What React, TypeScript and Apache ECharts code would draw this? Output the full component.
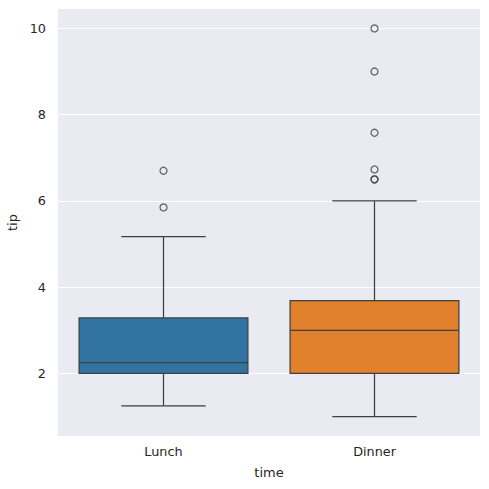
import { useEffect, useRef } from "react";
import * as echarts from "echarts";

const TIMES = ["Lunch", "Dinner"];
// [low whisker, q1, median, q3, high whisker]
const LUNCH_BOX = [1.25, 2.0, 2.25, 3.2875, 5.17];
const DINNER_BOX = [1.0, 2.0, 3.0, 3.6875, 6.0];
const LUNCH_FLIERS = [6.7, 5.85];
const DINNER_FLIERS = [10.0, 9.0, 7.58, 6.73, 6.5, 6.5];
const Y_TICKS = [2, 4, 6, 8, 10];
const BOX_COLORS = ["#3274a1", "#e1812c"];

const LINE = "#3f3f3f";
const TEXT = "#262626";
const FONT = "DejaVu Sans";

export default function App() {
  const ref = useRef<HTMLDivElement>(null);

  useEffect(() => {
    document.body.style.margin = "0";
    if (!ref.current) return;
    const chart = echarts.init(ref.current, null, { renderer: "svg" });

    const boxes = [LUNCH_BOX, DINNER_BOX].map((b, i) => [i, ...b]);
    const fliers = [
      ...LUNCH_FLIERS.map((v) => [0, v]),
      ...DINNER_FLIERS.map((v) => [1, v]),
    ];

    chart.setOption({
      animation: false,
      backgroundColor: "#ffffff",
      textStyle: { fontFamily: FONT },
      grid: {
        left: 58,
        right: 9,
        top: 9,
        bottom: 53,
        show: true,
        backgroundColor: "#eaeaf2",
        borderWidth: 0,
        outerBoundsMode: "none",
      },
      xAxis: {
        type: "category",
        data: TIMES,
        name: "time",
        nameLocation: "middle",
        nameGap: 30,
        nameTextStyle: { color: TEXT, fontSize: 13, fontFamily: FONT },
        axisLine: { show: false },
        axisTick: { show: false },
        splitLine: { show: false },
        axisLabel: { color: TEXT, fontSize: 12.8, margin: 9, fontFamily: FONT },
      },
      yAxis: {
        type: "value",
        min: 0.55,
        max: 10.45,
        name: "tip",
        nameLocation: "middle",
        nameGap: 33,
        nameTextStyle: { color: TEXT, fontSize: 13, fontFamily: FONT },
        axisLine: { show: false },
        axisTick: { show: false, customValues: Y_TICKS },
        axisLabel: {
          color: TEXT,
          fontSize: 12.8,
          margin: 12,
          fontFamily: FONT,
          customValues: Y_TICKS,
        },
        splitLine: { show: true, lineStyle: { color: "#ffffff", width: 1 } },
      },
      series: [
        {
          type: "custom",
          data: boxes,
          encode: { x: 0, y: [1, 2, 3, 4, 5] },
          renderItem: (params: any, api: any) => {
            const x = api.value(0);
            const lo = api.coord([x, api.value(1)]);
            const q1 = api.coord([x, api.value(2)]);
            const med = api.coord([x, api.value(3)]);
            const q3 = api.coord([x, api.value(4)]);
            const hi = api.coord([x, api.value(5)]);
            const band = api.size([1, 0])[0];
            const hw = (band * 0.8) / 2;
            const cw = hw / 2;
            const cx = lo[0];
            const ls = { stroke: LINE, lineWidth: 1.25 };
            return {
              type: "group",
              children: [
                { type: "line", shape: { x1: cx, y1: q1[1], x2: cx, y2: lo[1] }, style: ls },
                { type: "line", shape: { x1: cx, y1: q3[1], x2: cx, y2: hi[1] }, style: ls },
                { type: "line", shape: { x1: cx - cw, y1: lo[1], x2: cx + cw, y2: lo[1] }, style: ls },
                { type: "line", shape: { x1: cx - cw, y1: hi[1], x2: cx + cw, y2: hi[1] }, style: ls },
                {
                  type: "rect",
                  shape: { x: cx - hw, y: q3[1], width: hw * 2, height: q1[1] - q3[1] },
                  style: { fill: BOX_COLORS[params.dataIndex], stroke: LINE, lineWidth: 1.25 },
                },
                { type: "line", shape: { x1: cx - hw, y1: med[1], x2: cx + hw, y2: med[1] }, style: ls },
              ],
            };
          },
        },
        {
          type: "scatter",
          data: fliers,
          symbol: "circle",
          symbolSize: 7,
          itemStyle: { color: "transparent", borderColor: LINE, borderWidth: 1.25 },
        },
      ],
    });

    return () => chart.dispose();
  }, []);

  return <div ref={ref} style={{ width: 489, height: 489 }} />;
}
